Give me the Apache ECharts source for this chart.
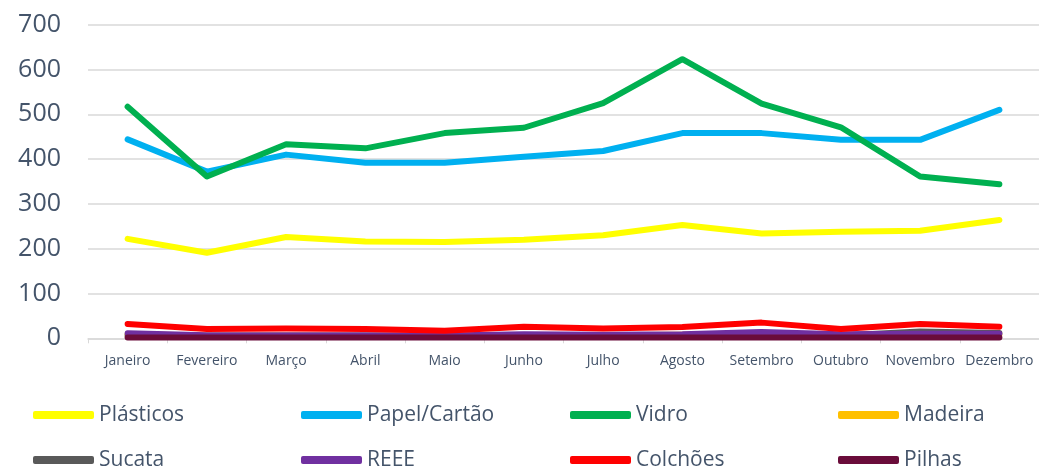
<!DOCTYPE html>
<html>
<head>
<meta charset="utf-8">
<script src="https://cdn.jsdelivr.net/npm/echarts@6/dist/echarts.min.js"></script>
<style>
  html, body { margin: 0; padding: 0; background: #fff; }
  #main { width: 1039px; height: 470px; }
</style>
</head>
<body>
<div id="main"></div>
<script>
var meses = ['Janeiro', 'Fevereiro', 'Março', 'Abril', 'Maio', 'Junho', 'Julho', 'Agosto', 'Setembro', 'Outubro', 'Novembro', 'Dezembro']

var plasticos = [222, 191, 226, 216, 215, 220, 230, 253, 234, 238, 240, 264]
var papelCartao = [444, 372, 410, 392, 392, 405, 418, 458, 458, 443, 443, 510]
var vidro = [517, 361, 433, 424, 458, 470, 525, 623, 524, 471, 361, 344]
var madeira = [9, 6, 6, 6, 5, 7, 7, 8, 11, 7, 9, 8]
var sucata = [6, 4, 4, 4, 4, 5, 5, 6, 8, 6, 15, 12]
var reee = [11, 7, 7, 7, 6, 9, 8, 9, 14, 9, 10, 10]
var colchoes = [32, 21, 22, 21, 17, 26, 22, 25, 35, 21, 32, 26]
var pilhas = [2, 2, 2, 2, 2, 2, 2, 2, 2, 2, 2, 2]

var nomes = ['Plásticos', 'Papel/Cartão', 'Vidro', 'Madeira', 'Sucata', 'REEE', 'Colchões', 'Pilhas']
var cores = ['#FFFF00', '#00B0F0', '#00B050', '#FFC000', '#595959', '#7030A0', '#FF0000', '#6A0C3A']
var dados = [plasticos, papelCartao, vidro, madeira, sucata, reee, colchoes, pilhas]

var textColor = '#44546A'
var font = 'Open Sans'

var series = dados.map(function (d, i) {
  return {
    name: nomes[i],
    type: 'line',
    data: d,
    showSymbol: false,
    symbol: 'none',
    lineStyle: { color: cores[i], width: 6, cap: 'round', join: 'round' },
    itemStyle: { color: cores[i] }
  }
})

// one legend per item so columns line up like the original
var colLeft = [33, 301, 570, 838]
var rowTop = [403, 448]
var legends = nomes.map(function (n, i) {
  return {
    data: [n],
    left: colLeft[i % 4],
    top: rowTop[Math.floor(i / 4)],
    padding: 0,
    icon: 'roundRect',
    itemWidth: 61,
    itemHeight: 8,
    textStyle: { color: textColor, fontSize: 21, fontFamily: font, lineHeight: 24, padding: [0, 0, 0, 0] }
  }
})

var myChart = echarts.init(document.getElementById('main'))
var option = {
  backgroundColor: '#fff',
  animation: false,
  legend: legends,
  grid: {
    left: 88,
    right: 0,
    top: 24.7,
    bottom: 131.7,
    containLabel: false
  },
  xAxis: {
    type: 'category',
    data: meses,
    boundaryGap: true,
    axisLine: { show: true, lineStyle: { color: '#D9D9D9', width: 1.5 } },
    axisTick: { show: true, alignWithLabel: false, length: 5, lineStyle: { color: '#D9D9D9' } },
    axisLabel: { interval: 0, color: textColor, fontSize: 14, fontFamily: font, margin: 16 }
  },
  yAxis: {
    type: 'value',
    min: 0,
    max: 700,
    interval: 100,
    axisLine: { show: false },
    axisTick: { show: false },
    axisLabel: { color: textColor, fontSize: 25, fontFamily: font, margin: 27 },
    splitLine: { show: true, lineStyle: { color: '#D9D9D9', width: 1.5 } }
  },
  series: series
}
myChart.setOption(option)
</script>
</body>
</html>
